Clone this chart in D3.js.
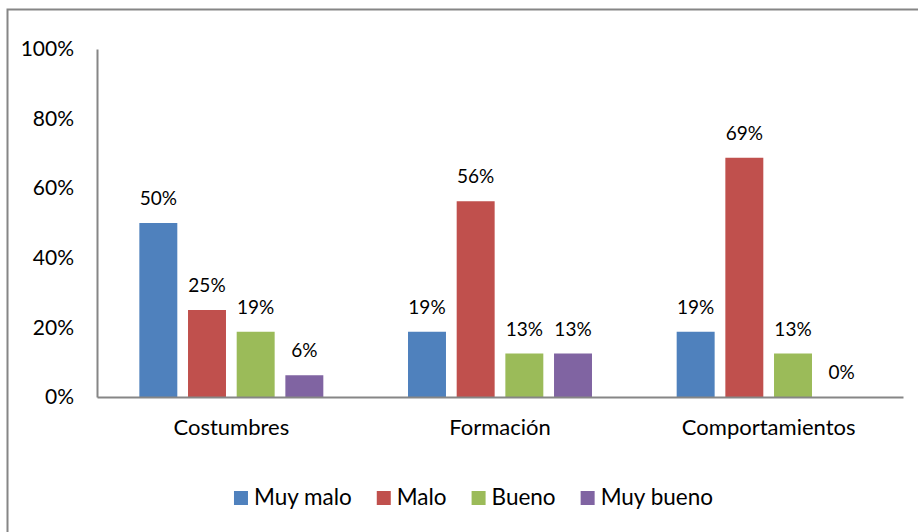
<!DOCTYPE html>
<html>
<head>
<meta charset="utf-8">
<script src="https://cdn.jsdelivr.net/npm/d3@7"></script>
<style>
  body { margin: 0; background: #fff; }
  text { font-family: Lato, "Open Sans", sans-serif; fill: #000; }
</style>
</head>
<body>
<svg width="918" height="532"></svg>
<script>
// chart data
var categories = ['Costumbres', 'Formación', 'Comportamientos']
var seriesNames = ['Muy malo', 'Malo', 'Bueno', 'Muy bueno']
var seriesColors = ['#4f81bd', '#c0504d', '#9bbb59', '#8064a2']
var muyMalo = [0.5, 0.1875, 0.1875]
var malo = [0.25, 0.5625, 0.6875]
var bueno = [0.1875, 0.125, 0.125]
var muyBueno = [0.0625, 0.125, 0]
var yTicks = [0, 0.2, 0.4, 0.6, 0.8, 1]

var values = [muyMalo, malo, bueno, muyBueno]
var svg = d3.select('svg')

// outer frame (runs off the right and bottom edges)
svg.append('rect')
    .attr('x', 7.5).attr('y', 9.5)
    .attr('width', 940).attr('height', 560)
    .attr('fill', 'none')
    .attr('stroke', '#868686')
    .attr('stroke-width', 2)

var plotLeft = 97, plotRight = 903, plotTop = 49, plotBottom = 397

var y = d3.scaleLinear().domain([0, 1]).range([plotBottom, plotTop])
var x0 = d3.scaleBand().domain(categories).range([plotLeft, plotRight]).padding(0)
var x1 = d3.scaleBand().domain(seriesNames).range([0, x0.bandwidth()])
    .paddingInner(0.22).paddingOuter(0.87)

var pct = d3.format('.0%')

// y axis
var yAxis = svg.append('g')
    .attr('transform', 'translate(' + plotLeft + ',0)')
    .call(d3.axisLeft(y).tickValues(yTicks).tickFormat(pct).tickSize(0).tickPadding(23))
yAxis.select('.domain').attr('stroke', '#868686').attr('stroke-width', 2)
yAxis.selectAll('text').style('font-size', '21px').attr('fill', '#000')

// bars
for (var s = 0; s < seriesNames.length; s++) {
    var g = svg.append('g')
    categories.forEach(function(cat, i) {
	var v = values[s][i]
	var bx = x0(cat) + x1(seriesNames[s])
	g.append('rect')
	    .attr('x', bx)
	    .attr('y', y(v))
	    .attr('width', x1.bandwidth())
	    .attr('height', plotBottom - y(v))
	    .attr('fill', seriesColors[s])
	g.append('text')
	    .attr('x', bx + x1.bandwidth() / 2)
	    .attr('y', y(v) - 18)
	    .attr('text-anchor', 'middle')
	    .style('font-size', '19px')
	    .text(pct(v))
    })
}

// x axis
var xAxis = svg.append('g')
    .attr('transform', 'translate(0,' + plotBottom + ')')
    .call(d3.axisBottom(x0).tickSize(0).tickPadding(0))
xAxis.select('.domain').attr('stroke', '#868686').attr('stroke-width', 2)
xAxis.selectAll('text').attr('dy', 0).attr('y', 38).style('font-size', '22px').attr('fill', '#000')

// legend
var legend = svg.append('g')
var lx = 0
seriesNames.forEach(function(name, i) {
    var item = legend.append('g').attr('transform', 'translate(' + lx + ',0)')
    item.append('rect')
	.attr('x', 0).attr('y', 491)
	.attr('width', 14).attr('height', 14)
	.attr('fill', seriesColors[i])
    var t = item.append('text')
	.attr('x', 20).attr('y', 505)
	.style('font-size', '22.5px')
	.text(name)
    lx += 20 + t.node().getComputedTextLength() + 25
})
var legendW = lx - 25
legend.attr('transform', 'translate(' + (473.5 - legendW / 2) + ',0)')
</script>
</body>
</html>
